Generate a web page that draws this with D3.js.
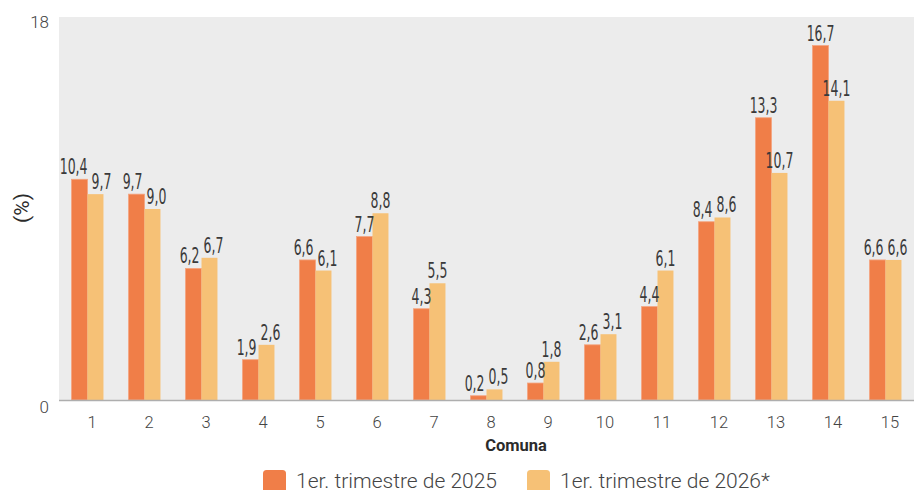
<!DOCTYPE html>
<html><head><meta charset="utf-8">
<script src="https://cdn.jsdelivr.net/npm/d3@7"></script>
<style>body{margin:0;background:#fff}svg{display:block}</style>
</head><body>
<svg id="c" width="914" height="490"></svg>
<script>
const categories = ["1","2","3","4","5","6","7","8","9","10","11","12","13","14","15"];
const series2025 = [10.4,9.7,6.2,1.9,6.6,7.7,4.3,0.2,0.8,2.6,4.4,8.4,13.3,16.7,6.6];
const series2026 = [9.7,9.0,6.7,2.6,6.1,8.8,5.5,0.5,1.8,3.1,6.1,8.6,10.7,14.1,6.6];
const seriesNames = ["1er. trimestre de 2025","1er. trimestre de 2026*"];
const yTicks = [0,18];
const xTitle = "Comuna";
const yTitle = "(%)";

const colors = ["#F07E48","#F6C176"];
const svg = d3.select("#c");
const plot = {left:59, right:914, top:18, bottom:400};

const x0 = d3.scaleBand().domain(categories).range([plot.left, plot.right]).paddingInner(0.44).paddingOuter(0.22);
const x1 = d3.scaleBand().domain([0,1]).range([0, x0.bandwidth()]);
const y = d3.scaleLinear().domain([0,18]).range([plot.bottom, plot.top]);

svg.append("rect").attr("x",plot.left).attr("y",plot.top-1).attr("width",plot.right-plot.left).attr("height",plot.bottom-plot.top+1).attr("fill","#ECECEC");

const series = [series2025, series2026];
const fmt = v => d3.format(".1f")(v).replace(".", ",");

// bars
series.forEach((vals, si) => {
  svg.append("g").selectAll("rect").data(vals).join("rect")
    .attr("x", (d,i) => x0(categories[i]) + x1(si))
    .attr("y", d => y(d))
    .attr("width", x1.bandwidth())
    .attr("height", d => y(0) - y(d))
    .attr("fill", colors[si])
    .attr("stroke", si === 0 ? "#F4A47F" : "none")
    .attr("stroke-width", 0.8);
});

// axis line
svg.append("line").attr("x1",plot.left).attr("x2",plot.right).attr("y1",y(0)+0.5).attr("y2",y(0)+0.5)
  .attr("stroke","#AEAEAE").attr("stroke-width",1.5);

// value labels with simple collision avoidance
const sx = 0.66, sy = 1.05;
const lblG = svg.append("g").attr("font-family","'Liberation Sans Narrow','DejaVu Sans Condensed',sans-serif")
  .attr("font-size",21).attr("fill","#3A3A3A");
categories.forEach((c, i) => {
  const items = series.map((vals, si) => {
    const t = lblG.append("text").attr("text-anchor","middle").text(fmt(vals[i]));
    const w = t.node().getComputedTextLength() * sx;
    return {t, w, cx: x0(c) + x1(si) + x1.bandwidth()/2, by: y(vals[i]) - 5};
  });
  const a = items[0], b = items[1];
  if (Math.abs(a.by - b.by) < 16) {
    const need = (a.w/2 + b.w/2 + 4) - (b.cx - a.cx);
    if (need > 0) { a.cx -= need/2; b.cx += need/2; }
  }
  items.forEach(it => it.t.attr("transform", `translate(${it.cx},${it.by}) scale(${sx},${sy})`));
});

// x tick labels
svg.append("g").selectAll("text").data(categories).join("text")
  .attr("x", d => x0(d) + x0.bandwidth()/2 + 4.5)
  .attr("y", 428)
  .attr("text-anchor","middle")
  .attr("font-family","Roboto, sans-serif").attr("font-weight",300)
  .attr("font-size",16.5).attr("fill","#444")
  .text(d => d);

// y tick labels
svg.append("g").selectAll("text").data(yTicks).join("text")
  .attr("x", 49)
  .attr("y", d => y(d) + (d === 0 ? 13 : 9.5))
  .attr("text-anchor","end")
  .attr("font-family","Roboto, sans-serif").attr("font-weight",300)
  .attr("font-size",17).attr("fill","#444")
  .text(d => d);

// axis titles
svg.append("text").attr("x",516).attr("y",451).attr("text-anchor","middle")
  .attr("font-family","Roboto, sans-serif").attr("font-weight",700).attr("font-size",16.5).attr("fill","#2b2b2b")
  .text(xTitle);
svg.append("text").attr("transform","translate(29,208) rotate(-90)").attr("text-anchor","middle")
  .attr("font-family","Roboto, sans-serif").attr("font-size",21).attr("fill","#2b2b2b")
  .text(yTitle);

// legend
let lx = 263;
seriesNames.forEach((n, si) => {
  const g = svg.append("g");
  g.append("rect").attr("x",lx).attr("y",470).attr("width",23).attr("height",23).attr("rx",3.5).attr("fill",colors[si]);
  const t = g.append("text").attr("x",lx+33).attr("y",487.5)
    .attr("font-family","Roboto, sans-serif").attr("font-weight",300).attr("font-size",21).attr("fill","#444")
    .text(n);
  lx = lx + 33 + t.node().getComputedTextLength() + 30;
});
</script>
</body></html>
